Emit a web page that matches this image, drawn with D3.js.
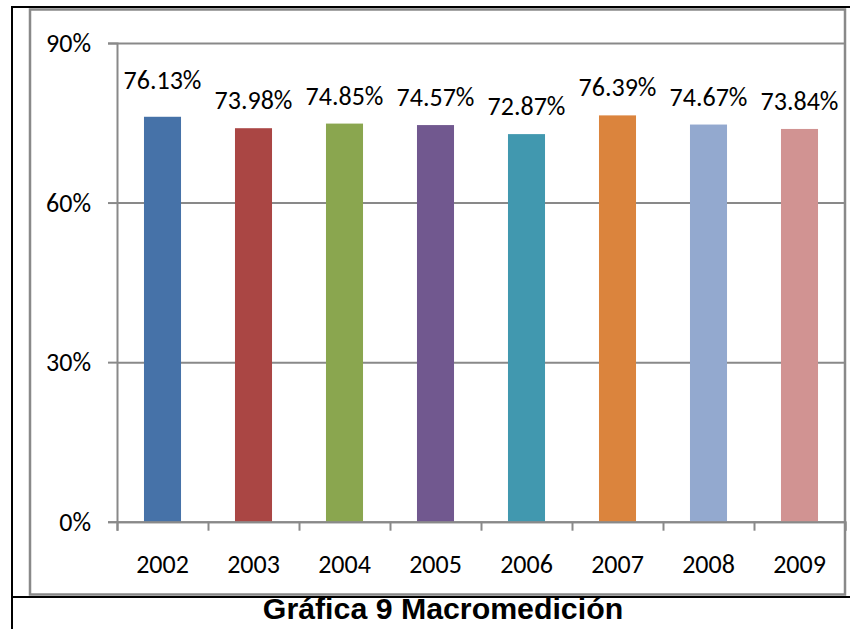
<!DOCTYPE html>
<html>
<head>
<meta charset="utf-8">
<script src="https://cdn.jsdelivr.net/npm/d3@7"></script>
<style>
  body { margin: 0; background: #fff; }
  svg { display: block; }
  .lbl { font-family: Carlito, Calibri, Lato, sans-serif; font-size: 26px; fill: #000; }
</style>
</head>
<body>
<div id="chart"></div>
<script>
// data
var years = ["2002", "2003", "2004", "2005", "2006", "2007", "2008", "2009"];
var values = [76.13, 73.98, 74.85, 74.57, 72.87, 76.39, 74.67, 73.84];
var yTicks = [0, 30, 60, 90];
var colors = ["#4672A8", "#AA4644", "#8AA64F", "#71588F", "#4198AF", "#DB843D", "#93A9CF", "#D19392"];
var title = "Gráfica 9 Macromedición";

var W = 850, H = 629;
var plot = { left: 117, right: 845, top: 43, bottom: 521.7 };
var grey = "#898989";

var svg = d3.select("#chart")
  .append("svg")
  .attr("width", W)
  .attr("height", H);

// table cell borders (black) + chart frame (grey)
svg.append("rect")
  .attr("x", 12).attr("y", 7)
  .attr("width", W - 12 + 2).attr("height", 590)
  .attr("fill", "none").attr("stroke", "#000").attr("stroke-width", 2);
svg.append("line")
  .attr("x1", 12).attr("x2", 12).attr("y1", 597).attr("y2", H)
  .attr("stroke", "#000").attr("stroke-width", 2);
svg.append("rect")
  .attr("x", 30).attr("y", 9.5)
  .attr("width", 815).attr("height", 585)
  .attr("fill", "#fff").attr("stroke", grey).attr("stroke-width", 2.5);

var x = d3.scaleBand()
  .domain(years)
  .range([plot.left, plot.right])
  .paddingInner(0.593)
  .paddingOuter(0.2965);

var y = d3.scaleLinear()
  .domain([0, 90])
  .range([plot.bottom, plot.top]);

// gridlines
svg.append("g")
  .attr("transform", "translate(" + plot.left + ",0)")
  .call(d3.axisLeft(y).tickValues(yTicks).tickSize(-(plot.right - plot.left)).tickFormat(""))
  .call(function (g) {
    g.select(".domain").remove();
    g.selectAll("line").attr("stroke", grey).attr("stroke-width", 2);
  });

// bars
svg.selectAll(".bar")
  .data(years)
  .enter()
  .append("rect")
  .attr("class", "bar")
  .attr("x", function (d) { return x(d); })
  .attr("width", x.bandwidth())
  .attr("y", function (d, i) { return y(values[i]); })
  .attr("height", function (d, i) { return y(0) - y(values[i]); })
  .attr("fill", function (d, i) { return colors[i]; });

// y axis
svg.append("g")
  .attr("transform", "translate(" + plot.left + ",0)")
  .call(d3.axisLeft(y).tickValues(yTicks).tickSize(9).tickPadding(17)
    .tickFormat(function (d) { return d + "%"; }))
  .call(function (g) {
    g.select(".domain").attr("stroke", grey).attr("stroke-width", 2);
    g.selectAll("line").attr("stroke", grey).attr("stroke-width", 2);
    g.selectAll("text").attr("class", "lbl").attr("dy", "0.34em");
  });

// x axis: ticks between categories
var xb = d3.scaleLinear().domain([0, years.length]).range([plot.left, plot.right]);
svg.append("g")
  .attr("transform", "translate(0," + plot.bottom + ")")
  .call(d3.axisBottom(xb).ticks(years.length).tickSize(9).tickFormat(""))
  .call(function (g) {
    g.select(".domain").attr("stroke", grey).attr("stroke-width", 2);
    g.selectAll("line").attr("stroke", grey).attr("stroke-width", 2);
  });

svg.append("g")
  .attr("transform", "translate(0," + plot.bottom + ")")
  .call(d3.axisBottom(x).tickSize(0))
  .call(function (g) {
    g.select(".domain").remove();
    g.selectAll("text").attr("class", "lbl").attr("y", 51).attr("dy", null);
  });

// value labels (first one sits a bit higher in the original)
svg.selectAll(".val")
  .data(years)
  .enter()
  .append("text")
  .attr("class", "lbl val")
  .attr("text-anchor", "middle")
  .attr("x", function (d) { return x(d) + x.bandwidth() / 2; })
  .attr("y", function (d, i) { return y(values[i]) - (i === 0 ? 28 : 19); })
  .text(function (d, i) { return values[i].toFixed(2) + "%"; });

// caption
svg.append("text")
  .attr("x", 443)
  .attr("y", 619)
  .attr("text-anchor", "middle")
  .style("font-family", "'Liberation Sans', Arial, sans-serif")
  .style("font-weight", "bold")
  .style("font-size", "30.3px")
  .text(title);
</script>
</body>
</html>
